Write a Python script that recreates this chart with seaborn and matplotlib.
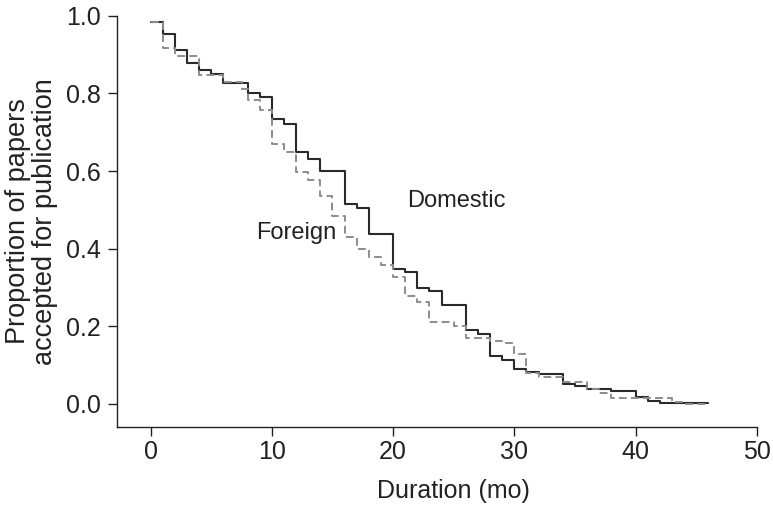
import numpy as np
import pandas as pd
import seaborn as sns
import matplotlib.pyplot as plt

# step times (months) and survival proportions
dom_t = [0, 1, 2, 3, 4, 5, 6, 8, 9, 10, 11, 12, 13, 14, 16, 17, 18, 20, 21, 22,
         23, 24, 26, 27, 28, 29, 30, 31, 32, 34, 35, 36, 38, 40, 41, 42, 46]
dom_p = [0.984, 0.954, 0.911, 0.878, 0.859, 0.851, 0.827, 0.800, 0.790, 0.733,
         0.722, 0.649, 0.632, 0.600, 0.515, 0.505, 0.437, 0.348, 0.341, 0.298,
         0.292, 0.255, 0.191, 0.181, 0.123, 0.114, 0.090, 0.083, 0.076, 0.051,
         0.045, 0.039, 0.033, 0.017, 0.008, 0.003, 0.003]

for_t = [0, 1, 2, 4, 6, 7.5, 8, 9, 10, 11, 12, 13, 14, 15, 16, 17, 18, 19, 20,
         21, 22, 23, 25, 26, 28, 29, 30, 31, 32, 34, 36, 37, 38, 43, 44, 46]
for_p = [0.984, 0.918, 0.897, 0.848, 0.829, 0.812, 0.784, 0.757, 0.670, 0.648,
         0.598, 0.577, 0.535, 0.483, 0.430, 0.399, 0.379, 0.357, 0.328, 0.277,
         0.262, 0.212, 0.202, 0.170, 0.161, 0.156, 0.129, 0.080, 0.070, 0.057,
         0.038, 0.027, 0.016, 0.005, 0.0, 0.0]

df = pd.concat([
    pd.DataFrame({'time': dom_t, 'prop': dom_p, 'group': 'Domestic'}),
    pd.DataFrame({'time': for_t, 'prop': for_p, 'group': 'Foreign'}),
])

sns.set_style('ticks')
plt.rcParams['font.family'] = ['Liberation Sans', 'DejaVu Sans']

fig = plt.figure(figsize=(7.73, 5.08), dpi=100)
ax = fig.add_axes([0.151, 0.159, 0.828, 0.81])

sns.lineplot(data=df, x='time', y='prop', hue='group', style='group',
             estimator=None, sort=True, drawstyle='steps-post',
             palette={'Domestic': '#2a2a2a', 'Foreign': '#8c8c8c'},
             dashes={'Domestic': '', 'Foreign': (4, 2.2)},
             legend=False, ax=ax)
ax.lines[0].set_linewidth(1.5)
ax.lines[1].set_linewidth(1.4)

ax.text(25.2, 0.523, 'Domestic', fontsize=17, ha='center', va='center', color='#222222')
ax.text(12.0, 0.441, 'Foreign', fontsize=17, ha='center', va='center', color='#222222')

ax.set_xlim(-2.8, 50)
ax.set_ylim(-0.06, 1.0)
ax.set_xticks([0, 10, 20, 30, 40, 50])
ax.set_yticks([0.0, 0.2, 0.4, 0.6, 0.8, 1.0])
ax.set_yticklabels(['0.0', '0.2', '0.4', '0.6', '0.8', '1.0'])
ax.tick_params(axis='both', labelsize=18, length=6.5, width=1, colors='#222222')
ax.tick_params(axis='x', pad=2.5)
ax.tick_params(axis='y', pad=5)

# x label sits centred over the 0-50 range, not the whole axis
ax.set_xlabel('Duration (mo)', fontsize=18, color='#222222', labelpad=11,
              x=(25 + 2.8) / 52.8)
ax.set_ylabel('Proportion of papers\naccepted for publication', fontsize=19.5,
              color='#222222', linespacing=1.05)
ax.yaxis.set_label_coords(-0.092, 0.5)

sns.despine(ax=ax)
for s in ['left', 'bottom']:
    ax.spines[s].set_color('#222222')
    ax.spines[s].set_linewidth(1)

fig.savefig('out.png', dpi=100)
